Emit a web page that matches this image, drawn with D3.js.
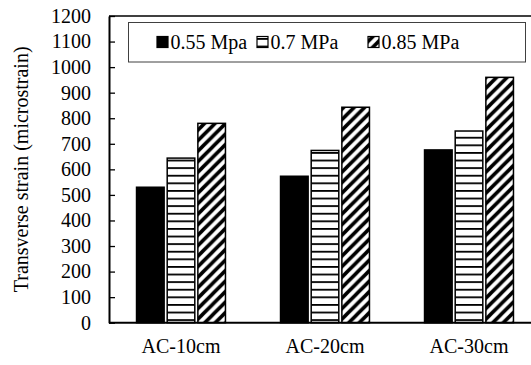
<!DOCTYPE html>
<html>
<head>
<meta charset="utf-8">
<script src="https://cdn.jsdelivr.net/npm/d3@7"></script>
<style>
  html, body { margin: 0; padding: 0; background: #fff; }
  svg { display: block; font-family: "Liberation Serif", "Times New Roman", serif; }
  svg text { font-family: "Liberation Serif", "Times New Roman", serif; }
</style>
</head>
<body>
<svg id="chart" width="531" height="365"></svg>
<script>
// ---- data ----
const categories = ["AC-10cm", "AC-20cm", "AC-30cm"];
const seriesNames = ["0.55 Mpa", "0.7 MPa", "0.85 MPa"];
const values055 = [530, 573, 676];
const values070 = [644, 674, 750];
const values085 = [780, 843, 960];
const yTicks = [0, 100, 200, 300, 400, 500, 600, 700, 800, 900, 1000, 1100, 1200];
const yTitle = "Transverse strain (microstrain)";

const seriesValues = [values055, values070, values085];
const fills = ["#000", "url(#hstripe)", "url(#dstripe)"];
const FS = 20;

const svg = d3.select("#chart");
const mLeft = 109, mRight = 541, mTop = 16, mBottom = 322.7;

// patterns
const defs = svg.append("defs");
const hp = defs.append("pattern").attr("id", "hstripe").attr("patternUnits", "userSpaceOnUse")
  .attr("width", 8).attr("height", 7.6);
hp.append("rect").attr("width", 8).attr("height", 7.6).attr("fill", "#fff");
hp.append("rect").attr("y", 0).attr("width", 8).attr("height", 1.8).attr("fill", "#000");

const W = 10.5;
const dp = defs.append("pattern").attr("id", "dstripe").attr("patternUnits", "userSpaceOnUse")
  .attr("width", W).attr("height", W);
dp.append("rect").attr("width", W).attr("height", W).attr("fill", "#fff");
dp.append("path")
  .attr("d", `M0,${W} L${W},0 M${-W/2},${W/2} L${W/2},${-W/2} M${W/2},${W*1.5} L${W*1.5},${W/2}`)
  .attr("stroke", "#000").attr("stroke-width", 3.6);

// scales
const x0 = d3.scaleBand().domain(categories).range([mLeft, mRight]).paddingInner(0).paddingOuter(0);
const x1 = d3.scaleBand().domain(seriesNames).range([-46, 46]).paddingInner(0.1).paddingOuter(0.05);
const y = d3.scaleLinear().domain([0, 1200]).range([mBottom, mTop]);

// bars
const groups = svg.append("g").selectAll("g").data(categories).join("g")
  .attr("transform", d => `translate(${x0(d) + x0.bandwidth() / 2},0)`);
groups.selectAll("rect")
  .data((c, ci) => seriesNames.map((s, si) => ({ s, si, v: seriesValues[si][ci] })))
  .join("rect")
  .attr("x", d => x1(d.s))
  .attr("width", x1.bandwidth())
  .attr("y", d => y(d.v))
  .attr("height", d => y(0) - y(d.v))
  .attr("fill", d => fills[d.si])
  .attr("stroke", "#000").attr("stroke-width", 1.5);

// frame top
svg.append("line").attr("x1", mLeft).attr("x2", 545).attr("y1", mTop).attr("y2", mTop)
  .attr("stroke", "#000").attr("stroke-width", 1.5);

// y axis
const yAxis = svg.append("g").attr("transform", `translate(${mLeft},0)`)
  .call(d3.axisLeft(y).tickValues(yTicks).tickFormat(d3.format("d"))
    .tickSizeInner(-6).tickSizeOuter(0).tickPadding(18));
yAxis.attr("font-size", FS).attr("font-family", null);
yAxis.select(".domain").attr("stroke", "#000").attr("stroke-width", 2);
yAxis.selectAll(".tick line").attr("stroke", "#000").attr("stroke-width", 1.3);
yAxis.selectAll("text").attr("fill", "#000");

// x axis
const xAxis = svg.append("g").attr("transform", `translate(0,${mBottom})`)
  .call(d3.axisBottom(x0).tickSize(0).tickPadding(16));
xAxis.attr("font-size", FS).attr("font-family", null);
xAxis.select(".domain").attr("stroke", "#000").attr("stroke-width", 2)
  .attr("d", `M${mLeft},0H545`);
xAxis.selectAll("text").attr("fill", "#000");

// y title
svg.append("text")
  .attr("transform", `translate(28,${(mTop + mBottom) / 2}) rotate(-90)`)
  .attr("text-anchor", "middle")
  .attr("font-size", FS)
  .text(yTitle);

// legend
const lg = svg.append("g");
lg.append("rect").attr("x", 128.5).attr("y", 22.5).attr("width", 397).attr("height", 39.5)
  .attr("fill", "#fff").attr("stroke", "#404040").attr("stroke-width", 1);
const legendX = [157, 257, 368];
seriesNames.forEach((s, i) => {
  lg.append("rect").attr("x", legendX[i]).attr("y", 36.5).attr("width", 11).attr("height", 11)
    .attr("fill", fills[i]).attr("stroke", "#000").attr("stroke-width", 1.2);
  lg.append("text").attr("x", legendX[i] + 13.5).attr("y", 49).attr("font-size", FS).text(s);
});
</script>
</body>
</html>
